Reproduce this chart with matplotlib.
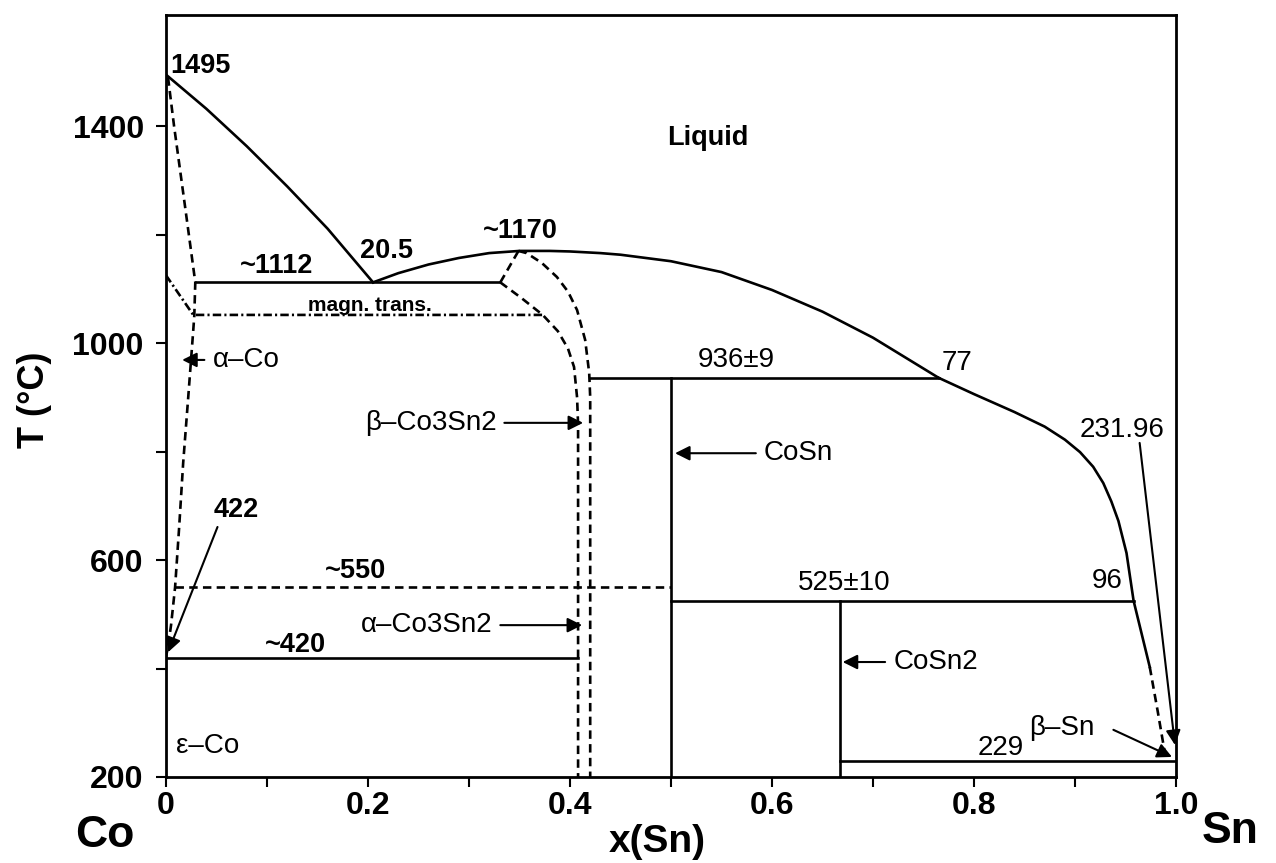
import numpy as np
import matplotlib
matplotlib.use("Agg")
import matplotlib.pyplot as plt

plt.rcParams['font.family'] = ['Liberation Sans', 'DejaVu Sans']

# --- liquidus (solid parts) ---
liq_co_x = [0.0, 0.04, 0.08, 0.12, 0.16, 0.205]
liq_co_T = [1495, 1432, 1363, 1289, 1211, 1112]

liq_mid_x = [0.205, 0.23, 0.26, 0.29, 0.32, 0.35, 0.38, 0.40, 0.43, 0.45,
             0.50, 0.55, 0.60, 0.65, 0.70, 0.765]
liq_mid_T = [1112, 1129, 1145, 1157, 1166, 1170, 1170, 1169, 1166, 1163,
             1151, 1131, 1098, 1058, 1010, 936]

liq_sn_x = [0.765, 0.80, 0.84, 0.87, 0.89, 0.905, 0.918, 0.928, 0.936,
            0.943, 0.951, 0.958, 0.974]
liq_sn_T = [936, 906, 873, 846, 822, 799, 772, 742, 708, 672, 613, 525, 403]

liq_sn_dash_x = [0.974, 0.982, 0.990]
liq_sn_dash_T = [403, 320, 233]

# --- alpha-Co solvus / solidus (dashed) ---
aco_x = [0.002, 0.008, 0.019, 0.029, 0.028, 0.027, 0.022, 0.017, 0.013,
         0.009, 0.005, 0.002, 0.0]
aco_T = [1490, 1400, 1250, 1112, 1050, 1024, 900, 779, 660, 550, 480, 440, 422]

# magnetic transition (dash-dot)
mag_x = [0.0, 0.027, 0.373]
mag_T = [1125, 1052, 1052]

# --- Co3Sn2 phase field (dashed) ---
c32_top_x = [0.331, 0.349]
c32_top_T = [1112, 1170]
c32_left_x = [0.331, 0.352, 0.373, 0.388, 0.398, 0.404, 0.407, 0.408, 0.408]
c32_left_T = [1112, 1083, 1052, 1022, 990, 956, 900, 850, 200]
c32_right_x = [0.349, 0.357, 0.372, 0.387, 0.398, 0.407, 0.415, 0.419, 0.420, 0.420]
c32_right_T = [1170, 1166, 1148, 1122, 1095, 1061, 1006, 945, 900, 200]

# --- invariant lines and compounds ---
T_eut1, eut1_x = 1112, [0.030, 0.331]
T_peri1, peri1_x = 936, [0.420, 0.765]
T_peri2, peri2_x = 525, [0.500, 0.958]
T_eut2, eut2_x = 229, [0.667, 1.0]
T_550, x_550 = 550, [0.009, 0.500]
T_420, x_420 = 420, [0.0, 0.408]
x_CoSn, T_CoSn = 0.5, [200, 936]
x_CoSn2, T_CoSn2 = 0.667, [200, 525]

fig = plt.figure(figsize=(12.76, 8.63), dpi=100)
ax = fig.add_axes([166/1276, 1 - 777/863, 1010/1276, 762/863])

LW = 1.9
dash = (0, (3.2, 2.0))
dashdot = (0, (3.2, 1.2, 0.8, 1.2))

ax.plot(liq_co_x, liq_co_T, 'k-', lw=LW)
ax.plot(liq_mid_x, liq_mid_T, 'k-', lw=LW)
ax.plot(liq_sn_x, liq_sn_T, 'k-', lw=LW)
ax.plot(liq_sn_dash_x, liq_sn_dash_T, color='k', lw=LW, ls=dash)

ax.plot(aco_x, aco_T, color='k', lw=LW, ls=dash)
ax.plot(mag_x, mag_T, color='k', lw=LW, ls=dashdot)

ax.plot(c32_top_x, c32_top_T, color='k', lw=LW, ls=dash)
ax.plot(c32_left_x, c32_left_T, color='k', lw=LW, ls=dash)
ax.plot(c32_right_x, c32_right_T, color='k', lw=LW, ls=dash)

for xs, T in [(eut1_x, T_eut1), (peri1_x, T_peri1), (peri2_x, T_peri2),
              (eut2_x, T_eut2), (x_420, T_420)]:
    ax.plot(xs, [T, T], 'k-', lw=LW)
ax.plot(x_550, [T_550, T_550], color='k', lw=LW, ls=dash)
ax.plot([x_CoSn, x_CoSn], T_CoSn, 'k-', lw=LW)
ax.plot([x_CoSn2, x_CoSn2], T_CoSn2, 'k-', lw=LW)

ax.set_xlim(0, 1)
ax.set_ylim(200, 1605)
ax.set_xticks([0, 0.2, 0.4, 0.6, 0.8, 1.0])
ax.set_xticklabels(['0', '0.2', '0.4', '0.6', '0.8', '1.0'])
ax.set_xticks(np.arange(0.1, 1.0, 0.2), minor=True)
ax.set_yticks([200, 600, 1000, 1400])
ax.set_yticks([400, 800, 1200], minor=True)
ax.tick_params(which='both', direction='out', length=7, width=1.5)
ax.tick_params(axis='x', pad=3)
ax.tick_params(axis='y', pad=9)
for lab in ax.get_xticklabels() + ax.get_yticklabels():
    lab.set_fontsize(23)
    lab.set_fontweight('bold')
for sp in ax.spines.values():
    sp.set_linewidth(2.0)

# labels
bold = dict(fontsize=19.5, fontweight='bold')
reg = dict(fontsize=20)
ax.text(0.004, 1498, '1495', ha='left', va='baseline', **bold)
ax.text(0.192, 1157, '20.5', ha='left', va='baseline', **bold)
ax.text(0.073, 1129, '~1112', ha='left', va='baseline', **bold)
ax.text(0.314, 1193, '~1170', ha='left', va='baseline', **bold)
ax.text(0.202, 1060, 'magn. trans.', ha='center', va='baseline',
        fontsize=15, fontweight='bold')
ax.text(0.536, 1365, 'Liquid', ha='center', va='baseline', **bold)
ax.text(0.565, 956, '936±9', ha='center', va='baseline', **reg)
ax.text(0.768, 950, '77', ha='left', va='baseline', **reg)
ax.text(0.947, 827, '231.96', ha='center', va='baseline', **reg)
ax.text(0.917, 548, '96', ha='left', va='baseline', **reg)
ax.text(0.671, 545, '525±10', ha='center', va='baseline', **reg)
ax.text(0.804, 241, '229', ha='left', va='baseline', **reg)
ax.text(0.157, 567, '~550', ha='left', va='baseline', **bold)
ax.text(0.098, 430, '~420', ha='left', va='baseline', **bold)
ax.text(0.047, 679, '422', ha='left', va='baseline', **bold)
ax.text(0.010, 257, 'ε–Co', ha='left', va='center', **reg)
ax.text(0.855, 277, 'β–Sn', ha='left', va='baseline', **reg)

arrow = dict(arrowstyle='-|>', mutation_scale=22, lw=1.5, color='k',
             shrinkA=0, shrinkB=0)
# phase labels with arrows pointing at the phase fields
for txt, xy, xytext, ha in [
        ('α–Co', (0.016, 969), (0.038, 969), 'left'),
        ('β–Co3Sn2', (0.413, 853), (0.335, 853), 'right'),
        ('α–Co3Sn2', (0.412, 480), (0.331, 480), 'right'),
        ('CoSn', (0.504, 797), (0.584, 797), 'left'),
        ('CoSn2', (0.670, 412), (0.712, 412), 'left')]:
    ax.annotate('', xy=xy, xytext=xytext, arrowprops=arrow)
    dx = 0.008 if ha == 'left' else -0.008
    ax.text(xytext[0] + dx, xytext[1], txt, ha=ha, va='center', **reg)

ax.annotate('', xy=(0.002, 430), xytext=(0.051, 661), arrowprops=arrow)
ax.annotate('', xy=(0.996, 237), xytext=(0.938, 287), arrowprops=arrow)
ax.annotate('', xy=(0.999, 259), xytext=(0.964, 816), arrowprops=arrow)

# element labels and axis titles
fig.text(75/1276, 1 - 847/863, 'Co', fontsize=32, fontweight='bold',
         ha='left', va='baseline')
fig.text(1202/1276, 1 - 843/863, 'Sn', fontsize=32, fontweight='bold',
         ha='left', va='baseline')
fig.text(657/1276, 1 - 852/863, 'x(Sn)', fontsize=28, fontweight='bold',
         ha='center', va='baseline')
fig.text(35/1276, 1 - 400/863, 'T (°C)', fontsize=26, fontweight='bold',
         ha='center', va='center', rotation=90)

fig.savefig('out.png', dpi=100)
